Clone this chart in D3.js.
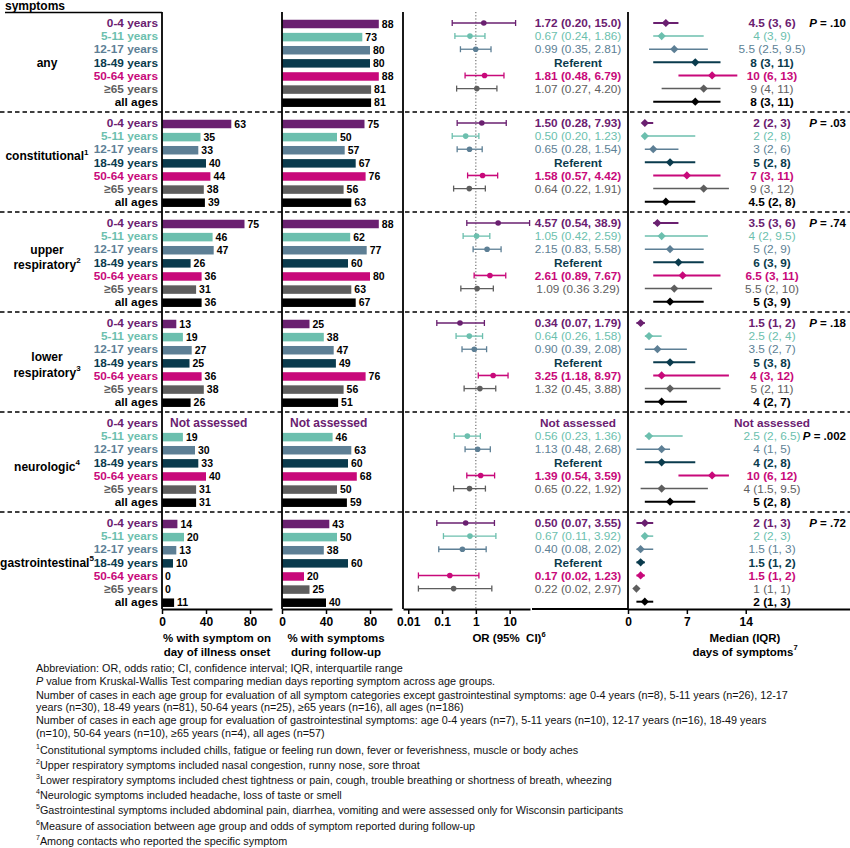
<!DOCTYPE html>
<html>
<head>
<meta charset="utf-8">
<script src="https://cdn.jsdelivr.net/npm/d3@7"></script>
<style>
  body { margin: 0; background: #fff; }
  svg { display: block; font-family: "Liberation Sans", Arial, sans-serif; }
</style>
</head>
<body>
<script>
// symptom groups and age groups
const groups = ["any", "constitutional", "upper respiratory", "lower respiratory", "neurologic", "gastrointestinal"];
const groupLines = [["any"], ["constitutional"], ["upper", "respiratory"], ["lower", "respiratory"], ["neurologic"], ["gastrointestinal"]];
const groupSup = ["", "1", "2", "3", "4", "5"];
const ages = ["0-4 years", "5-11 years", "12-17 years", "18-49 years", "50-64 years", "\u226565 years", "all ages"];
const ageColors = ["#6a2070", "#6cbfae", "#5d7f95", "#0a3b4d", "#c8097a", "#5e5e5e", "#000000"];
const ageBold = [true, false, false, true, true, false, true];

// % with symptom on day of illness onset (null = no bar)
const onsetPct = [
  [null, null, null, null, null, null, null],
  [63, 35, 33, 40, 44, 38, 39],
  [75, 46, 47, 26, 36, 31, 36],
  [13, 19, 27, 25, 36, 38, 26],
  [null, 19, 30, 33, 40, 31, 31],
  [14, 20, 13, 10, 0, 0, 11]
];
// % with symptoms during follow-up
const followPct = [
  [88, 73, 80, 80, 88, 81, 81],
  [75, 50, 57, 67, 76, 56, 63],
  [88, 62, 77, 60, 80, 63, 67],
  [25, 38, 47, 49, 76, 56, 51],
  [null, 46, 63, 60, 68, 50, 59],
  [43, 50, 38, 60, 20, 25, 40]
];

// odds ratios (18-49 is referent)
const orEst = [
  [1.72, 0.67, 0.99, null, 1.81, 1.07, null],
  [1.50, 0.50, 0.65, null, 1.58, 0.64, null],
  [4.57, 1.05, 2.15, null, 2.61, 1.09, null],
  [0.34, 0.64, 0.90, null, 3.25, 1.32, null],
  [null, 0.56, 1.13, null, 1.39, 0.65, null],
  [0.50, 0.67, 0.40, null, 0.17, 0.22, null]
];
const orLow = [
  [0.20, 0.24, 0.35, null, 0.48, 0.27, null],
  [0.28, 0.20, 0.28, null, 0.57, 0.22, null],
  [0.54, 0.42, 0.83, null, 0.89, 0.36, null],
  [0.07, 0.26, 0.39, null, 1.18, 0.45, null],
  [null, 0.23, 0.48, null, 0.54, 0.22, null],
  [0.07, 0.11, 0.08, null, 0.02, 0.02, null]
];
const orHigh = [
  [15.0, 1.86, 2.81, null, 6.79, 4.20, null],
  [7.93, 1.23, 1.54, null, 4.42, 1.91, null],
  [38.9, 2.59, 5.58, null, 7.67, 3.29, null],
  [1.79, 1.58, 2.08, null, 8.97, 3.88, null],
  [null, 1.36, 2.68, null, 3.59, 1.92, null],
  [3.55, 3.92, 2.02, null, 1.23, 2.97, null]
];
const orText = [
  ["1.72 (0.20, 15.0)", "0.67 (0.24, 1.86)", "0.99 (0.35, 2.81)", "Referent", "1.81 (0.48, 6.79)", "1.07 (0.27, 4.20)", ""],
  ["1.50 (0.28, 7.93)", "0.50 (0.20, 1.23)", "0.65 (0.28, 1.54)", "Referent", "1.58 (0.57, 4.42)", "0.64 (0.22, 1.91)", ""],
  ["4.57 (0.54, 38.9)", "1.05 (0.42, 2.59)", "2.15 (0.83, 5.58)", "Referent", "2.61 (0.89, 7.67)", "1.09 (0.36 3.29)", ""],
  ["0.34 (0.07, 1.79)", "0.64 (0.26, 1.58)", "0.90 (0.39, 2.08)", "Referent", "3.25 (1.18, 8.97)", "1.32 (0.45, 3.88)", ""],
  ["Not assessed", "0.56 (0.23, 1.36)", "1.13 (0.48, 2.68)", "Referent", "1.39 (0.54, 3.59)", "0.65 (0.22, 1.92)", ""],
  ["0.50 (0.07, 3.55)", "0.67 (0.11, 3.92)", "0.40 (0.08, 2.02)", "Referent", "0.17 (0.02, 1.23)", "0.22 (0.02, 2.97)", ""]
];

// median (IQR) days of symptoms
const medDays = [
  [4.5, 4, 5.5, 8, 10, 9, 8],
  [2, 2, 3, 5, 7, 9, 4.5],
  [3.5, 4, 5, 6, 6.5, 5.5, 5],
  [1.5, 2.5, 3.5, 5, 4, 5, 4],
  [null, 2.5, 4, 4, 10, 4, 5],
  [2, 2, 1.5, 1.5, 1.5, 1, 2]
];
const medQ1 = [
  [3, 3, 2.5, 3, 6, 4, 3],
  [2, 2, 2, 2, 3, 3, 2],
  [3, 2, 2, 3, 3, 2, 3],
  [1, 2, 2, 3, 3, 2, 2],
  [null, 2, 1, 2, 6, 1.5, 2],
  [1, 2, 1, 1, 1, 1, 1]
];
const medQ3 = [
  [6, 9, 9.5, 11, 13, 11, 11],
  [3, 8, 6, 8, 11, 12, 8],
  [6, 9.5, 9, 9, 11, 10, 9],
  [2, 4, 7, 8, 12, 11, 7],
  [null, 6.5, 5, 8, 12, 9.5, 8],
  [3, 3, 3, 2, 2, 1, 3]
];
const medText = [
  ["4.5 (3, 6)", "4 (3, 9)", "5.5 (2.5, 9.5)", "8 (3, 11)", "10 (6, 13)", "9 (4, 11)", "8 (3, 11)"],
  ["2 (2, 3)", "2 (2, 8)", "3 (2, 6)", "5 (2, 8)", "7 (3, 11)", "9 (3, 12)", "4.5 (2, 8)"],
  ["3.5 (3, 6)", "4 (2, 9.5)", "5 (2, 9)", "6 (3, 9)", "6.5 (3, 11)", "5.5 (2, 10)", "5 (3, 9)"],
  ["1.5 (1, 2)", "2.5 (2, 4)", "3.5 (2, 7)", "5 (3, 8)", "4 (3, 12)", "5 (2, 11)", "4 (2, 7)"],
  ["Not assessed", "2.5 (2, 6.5)", "4 (1, 5)", "4 (2, 8)", "10 (6, 12)", "4 (1.5, 9.5)", "5 (2, 8)"],
  ["2 (1, 3)", "2 (2, 3)", "1.5 (1, 3)", "1.5 (1, 2)", "1.5 (1, 2)", "1 (1, 1)", "2 (1, 3)"]
];
const pValues = [".10", ".03", ".74", ".18", ".002", ".72"];

// which cells are not assessed: [group, age]
const notAssessed = [[4, 0]];

const pctTicks = [0, 40, 80];
const orTicks = [0.01, 0.1, 1, 10];
const orTickLabels = ["0.01", "0.1", "1", "10"];
const medTicks = [0, 7, 14];

const footnotes = [
  {sup: "", text: "Abbreviation: OR, odds ratio; CI, confidence interval; IQR, interquartile range"},
  {sup: "", italic: "P", text: " value from Kruskal-Wallis Test comparing median days reporting symptom across age groups."},
  {sup: "", text: "Number of cases in each age group for evaluation of all symptom categories except gastrointestinal symptoms: age 0-4 years (n=8), 5-11 years (n=26), 12-17"},
  {sup: "", text: "years (n=30), 18-49 years (n=81), 50-64 years (n=25), \u226565 years (n=16), all ages (n=186)"},
  {sup: "", text: "Number of cases in each age group for evaluation of gastrointestinal symptoms: age 0-4 years (n=7), 5-11 years (n=10), 12-17 years (n=16), 18-49 years"},
  {sup: "", text: "(n=10), 50-64 years (n=10), \u226565 years (n=4), all ages (n=57)"},
  {sup: "1", text: "Constitutional symptoms included chills, fatigue or feeling run down, fever or feverishness, muscle or body aches"},
  {sup: "2", text: "Upper respiratory symptoms included nasal congestion, runny nose, sore throat"},
  {sup: "3", text: "Lower respiratory symptoms included chest tightness or pain, cough, trouble breathing or shortness of breath, wheezing"},
  {sup: "4", text: "Neurologic symptoms included headache, loss of taste or smell"},
  {sup: "5", text: "Gastrointestinal symptoms included abdominal pain, diarrhea, vomiting and were assessed only for Wisconsin participants"},
  {sup: "6", text: "Measure of association between age group and odds of symptom reported during follow-up"},
  {sup: "7", text: "Among contacts who reported the specific symptom"}
];

const w = 850;
const h = 848;
const axisY = 609;
const narrow = "'Liberation Sans Narrow', 'Arial Narrow', sans-serif";

const svg = d3.select("body").append("svg")
  .attr("width", w)
  .attr("height", h);

// scales
const yGroup = d3.scaleBand().domain(d3.range(groups.length)).range([12, 612]);
const yRow = d3.scalePoint().domain(d3.range(ages.length)).range([11, 89.7]);
const y = (g, i) => yGroup(g) + yRow(i);

const xOnset = d3.scaleLinear().domain([0, 100]).range([162, 272]);
const xFollow = d3.scaleLinear().domain([0, 100]).range([282, 392]);
const xOR = d3.scaleLog().domain([0.007, 40]).range([403, 530]);
const xMed = d3.scaleLinear().domain([0, 26.4]).range([628, 850]);
const orTextX = 578;
const medTextX = 772;

const isNA = (g, i) => notAssessed.some(d => d[0] === g && d[1] === i);

// flatten into rows
const rows = [];
groups.forEach(function(gname, g) {
  ages.forEach(function(a, i) {
    rows.push({g: g, i: i, age: a, color: ageColors[i], bold: ageBold[i],
      onset: onsetPct[g][i], follow: followPct[g][i],
      or: orEst[g][i], lo: orLow[g][i], hi: orHigh[g][i], orT: orText[g][i],
      med: medDays[g][i], q1: medQ1[g][i], q3: medQ3[g][i], medT: medText[g][i],
      na: isNA(g, i)});
  });
});

// header
svg.append("text").attr("x", 5).attr("y", 10)
  .attr("font-size", 12).attr("font-weight", "bold").text("symptoms");
svg.append("line").attr("x1", 5).attr("x2", 162).attr("y1", 12.5).attr("y2", 12.5)
  .attr("stroke", "#000").attr("stroke-width", 1.6);

// dashed separators
svg.selectAll("line.sep")
  .data(d3.range(1, groups.length))
  .enter().append("line")
  .attr("class", "sep")
  .attr("x1", 0).attr("x2", w)
  .attr("y1", d => yGroup(d)).attr("y2", d => yGroup(d))
  .attr("stroke", "#000").attr("stroke-width", 1.6)
  .attr("stroke-dasharray", "4.5,3");

// dotted line at OR = 1
svg.append("line")
  .attr("x1", xOR(1)).attr("x2", xOR(1)).attr("y1", 12).attr("y2", axisY)
  .attr("stroke", "#555").attr("stroke-width", 1).attr("stroke-dasharray", "1.2,2");

// row labels
svg.selectAll("text.age")
  .data(rows)
  .enter().append("text")
  .attr("class", "age")
  .attr("x", 158).attr("y", d => y(d.g, d.i)).attr("dy", "0.36em")
  .attr("text-anchor", "end")
  .attr("font-size", 11.8).attr("font-weight", "bold")
  .attr("fill", d => d.color)
  .text(d => d.age);

// group labels
const labelRow = [3, 2.5, 2, 2.6, 3.3, 3];
groupLines.forEach(function(lines, g) {
  const t = svg.append("text")
    .attr("text-anchor", "middle")
    .attr("font-size", 12).attr("font-weight", "bold");
  lines.forEach(function(line, k) {
    const yy = yGroup(g) + 11 + (labelRow[g] + k * 1.15) * yRow.step();
    t.append("tspan").attr("x", 47).attr("y", yy).attr("dy", "0.36em").text(line);
  });
  if (groupSup[g]) {
    t.append("tspan").attr("font-size", 8).attr("dy", "-0.7em").text(groupSup[g]);
  }
});

// bar panels
function barPanel(x, key) {
  const bh = 8.5;
  const data = rows.filter(d => d[key] !== null);
  svg.selectAll("rect.b" + key)
    .data(data).enter().append("rect")
    .attr("class", "b" + key)
    .attr("x", x(0)).attr("y", d => y(d.g, d.i) - bh / 2 + 1)
    .attr("width", d => x(d[key]) - x(0)).attr("height", bh)
    .attr("fill", d => d.color);
  svg.selectAll("text.v" + key)
    .data(data).enter().append("text")
    .attr("class", "v" + key)
    .attr("x", d => x(d[key]) + 3).attr("y", d => y(d.g, d.i) + 1).attr("dy", "0.36em")
    .attr("font-family", narrow).attr("font-size", 10.5).attr("font-weight", "bold")
    .text(d => d[key]);
  svg.selectAll("text.na" + key)
    .data(rows.filter(d => d.na)).enter().append("text")
    .attr("x", x(0) + 8).attr("y", d => y(d.g, d.i)).attr("dy", "0.36em")
    .attr("font-size", 12).attr("font-weight", "bold").attr("fill", ageColors[0])
    .text("Not assessed");
}
barPanel(xOnset, "onset");
barPanel(xFollow, "follow");

// OR forest plot
const orRows = rows.filter(d => d.or !== null);
svg.selectAll("line.ci")
  .data(orRows).enter().append("line")
  .attr("x1", d => xOR(d.lo)).attr("x2", d => xOR(d.hi))
  .attr("y1", d => y(d.g, d.i)).attr("y2", d => y(d.g, d.i))
  .attr("stroke", d => d.color).attr("stroke-width", d => d.bold ? 1.6 : 1.3);
["lo", "hi"].forEach(function(k) {
  svg.selectAll("line.cap" + k)
    .data(orRows).enter().append("line")
    .attr("x1", d => xOR(d[k])).attr("x2", d => xOR(d[k]))
    .attr("y1", d => y(d.g, d.i) - 3).attr("y2", d => y(d.g, d.i) + 3)
    .attr("stroke", d => d.color).attr("stroke-width", 1.3);
});
svg.selectAll("circle.or")
  .data(orRows).enter().append("circle")
  .attr("cx", d => xOR(d.or)).attr("cy", d => y(d.g, d.i)).attr("r", 2.8)
  .attr("fill", d => d.color);
svg.selectAll("text.ort")
  .data(rows.filter(d => d.orT)).enter().append("text")
  .attr("x", orTextX).attr("y", d => y(d.g, d.i)).attr("dy", "0.36em")
  .attr("text-anchor", "middle")
  .attr("font-size", 11.8).attr("font-weight", d => d.bold || d.na ? "bold" : "normal")
  .attr("fill", d => d.na ? ageColors[0] : d.color)
  .text(d => d.orT);

// median IQR plot
const medRows = rows.filter(d => d.med !== null);
svg.selectAll("line.iqr")
  .data(medRows).enter().append("line")
  .attr("x1", d => xMed(d.q1)).attr("x2", d => xMed(d.q3))
  .attr("y1", d => y(d.g, d.i)).attr("y2", d => y(d.g, d.i))
  .attr("stroke", d => d.color).attr("stroke-width", d => d.bold ? 2 : 1.5);
svg.selectAll("path.med")
  .data(medRows).enter().append("path")
  .attr("d", d3.symbol(d3.symbolSquare, 34))
  .attr("transform", d => "translate(" + xMed(d.med) + "," + y(d.g, d.i) + ") rotate(45)")
  .attr("fill", d => d.color);
svg.selectAll("text.medt")
  .data(rows).enter().append("text")
  .attr("x", medTextX).attr("y", d => y(d.g, d.i)).attr("dy", "0.36em")
  .attr("text-anchor", "middle")
  .attr("font-size", 11.8).attr("font-weight", d => d.bold || d.na ? "bold" : "normal")
  .attr("fill", d => d.na ? ageColors[0] : d.color)
  .text(d => d.medT);

// P values (first assessed row of each group)
pValues.forEach(function(p, g) {
  const r = isNA(g, 0) ? 1 : 0;
  const t = svg.append("text")
    .attr("x", 846).attr("y", y(g, r)).attr("dy", "0.36em")
    .attr("text-anchor", "end").attr("font-size", 11.5).attr("font-weight", "bold");
  t.append("tspan").attr("font-style", "italic").text("P");
  t.append("tspan").text(" = " + p);
});

// axes
function styleAxis(sel) {
  sel.select(".domain").attr("stroke-width", 1.8);
  sel.selectAll(".tick line").attr("stroke-width", 1.5);
  sel.selectAll(".tick text").attr("font-size", 12).attr("font-weight", "bold")
    .attr("font-family", "'Liberation Sans', Arial, sans-serif");
}
[[xOnset, pctTicks], [xFollow, pctTicks], [xMed, medTicks]].forEach(function(p) {
  svg.append("g")
    .attr("transform", "translate(0," + axisY + ")")
    .call(d3.axisBottom(p[0]).tickValues(p[1]).tickSize(5).tickSizeOuter(0).tickPadding(3))
    .call(styleAxis);
});
svg.append("g")
  .attr("transform", "translate(0," + axisY + ")")
  .call(d3.axisBottom(xOR).tickValues(orTicks).tickFormat((d, i) => orTickLabels[i])
    .tickSize(5).tickSizeOuter(0).tickPadding(3))
  .call(styleAxis);
// broken continuation of the OR axis under the text column
svg.append("line").attr("x1", 532).attr("x2", 628).attr("y1", axisY).attr("y2", axisY)
  .attr("stroke", "#000").attr("stroke-width", 1.8);

// vertical axis lines
[xOnset(0), xFollow(0), 403, xMed(0)].forEach(function(x) {
  svg.append("line").attr("x1", x).attr("x2", x).attr("y1", 12).attr("y2", axisY)
    .attr("stroke", "#000").attr("stroke-width", 1.8);
});

// axis titles
function title(x, lines, sup) {
  const t = svg.append("text").attr("text-anchor", "middle")
    .attr("font-size", 11.5).attr("font-weight", "bold");
  lines.forEach(function(l, k) {
    t.append("tspan").attr("x", x).attr("y", 642 + k * 13.5).text(l);
  });
  if (sup) t.append("tspan").attr("font-size", 7.5).attr("dy", "-0.7em").text(sup);
}
title(217, ["% with symptom on", "day of illness onset"]);
title(336, ["% with symptoms", "during follow-up"]);
title(509, ["OR (95%\u00a0 CI)"], "6");
title(745, ["Median (IQR)", "days of symptoms"], "7");

// footnotes
const fy = [672, 685, 699, 711, 724, 737, 752, 767, 782, 797, 812, 828, 843];
footnotes.forEach(function(f, k) {
  const t = svg.append("text").attr("x", 36).attr("y", fy[k])
    .attr("font-size", 10.8).attr("fill", "#111");
  if (f.sup) t.append("tspan").attr("font-size", 7).attr("dy", "-0.5em").text(f.sup);
  if (f.italic) t.append("tspan").attr("font-style", "italic").text(f.italic);
  t.append("tspan").attr("dy", f.sup ? "0.5em" : null).text(f.text);
});
</script>
</body>
</html>
